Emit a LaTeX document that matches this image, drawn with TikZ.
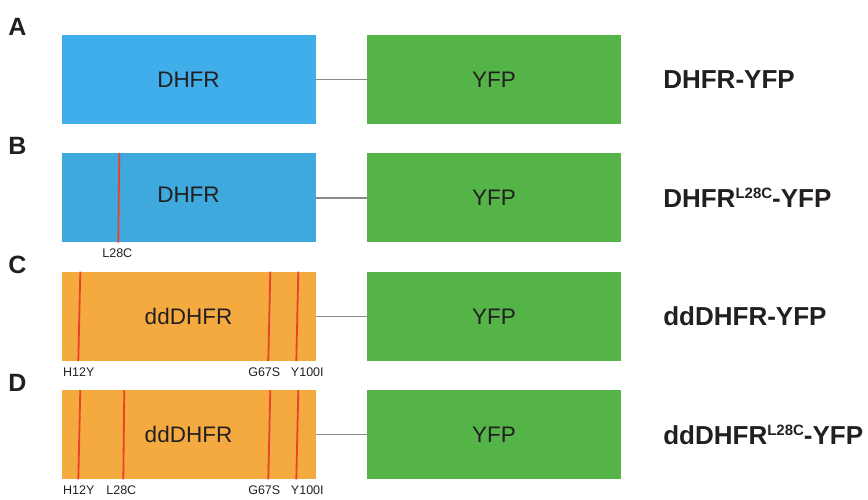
\documentclass[tikz,border=0pt]{standalone}
\usepackage{fontspec}
\setmainfont{Liberation Sans}
\usetikzlibrary{positioning,calc}
\definecolor{dhfrblue}{HTML}{41AEEC}
\definecolor{dhfrblueb}{HTML}{3EA9DD}
\definecolor{ddorange}{HTML}{F5AA40}
\definecolor{yfpgreen}{HTML}{55B448}
\definecolor{mutred}{HTML}{E8412C}
\definecolor{inkgray}{HTML}{231F20}
\definecolor{linkgray}{HTML}{8A8A8A}
\tikzset{every node/.append style={text=inkgray}}
\newcommand{\mutation}[5]{%
  \draw[mutline] ($(#1.north west)+(#2,0)$) -- ($(#1.south west)+(#3,0)$);
  \node[mutlabel] (#1-#4) at ($(#1.south west)+(#5,-11)$) {#4};}
\newcommand{\supmut}[1]{\raisebox{8.5pt}{\fontsize{15}{15}\selectfont #1}}

\begin{document}
\begin{tikzpicture}[x=1pt,y=1pt]
		\tikzstyle{dhfrbox} = [rectangle, minimum width=254pt, minimum height=89pt, inner sep=0pt, text centered, fill=dhfrblue, font=\fontsize{22.5}{27}\selectfont];
		\tikzstyle{ddbox} = [dhfrbox, fill=ddorange];
		\tikzstyle{yfpbox} = [dhfrbox, fill=yfpgreen];
		\tikzstyle{fusion} = [inner sep=0pt, text height=18.6pt, text depth=0pt, font=\fontsize{26}{30}\selectfont\bfseries];
		\tikzstyle{panel} = [inner sep=0pt, font=\fontsize{25}{30}\selectfont\bfseries];
		\tikzstyle{mutlabel} = [inner sep=0pt, font=\fontsize{12.5}{15}\selectfont];
		\tikzstyle{mutline} = [draw=mutred, line width=1.8pt];
		\tikzstyle{linker} = [draw=linkgray, line width=1.4pt];
		\useasboundingbox (0,0) rectangle (868,-499);
		\node (dhfrA) [dhfrbox] at (188.5,-79.5) {DHFR};
		\node (dhfrB) [dhfrbox, fill=dhfrblueb, below=29pt of dhfrA] {\raisebox{6pt}{DHFR}};
		\node (dhfrC) [ddbox, below=29pt of dhfrB] {ddDHFR};
		\node (dhfrD) [ddbox, below=29pt of dhfrC] {ddDHFR};
		\node (yfpA) [yfpbox, right=51pt of dhfrA] {YFP};
		\node (yfpB) [yfpbox, right=51pt of dhfrB] {YFP};
		\node (yfpC) [yfpbox, right=51pt of dhfrC] {YFP};
		\node (yfpD) [yfpbox, right=51pt of dhfrD] {YFP};
		\node (nameA) [fusion, right=42pt of yfpA] {DHFR-YFP};
		\node (nameB) [fusion, right=42pt of yfpB] {DHFR\supmut{L28C}-YFP};
		\node (nameC) [fusion, right=42pt of yfpC] {ddDHFR-YFP};
		\node (nameD) [fusion, right=42pt of yfpD] {ddDHFR\supmut{L28C}-YFP};
		\node (panelA) [panel] at ($(dhfrA.north west)+(-44,8)$) {A};
		\node (panelB) [panel] at ($(dhfrB.north west)+(-44,7)$) {B};
		\node (panelC) [panel] at ($(dhfrC.north west)+(-44,7)$) {C};
		\node (panelD) [panel] at ($(dhfrD.north west)+(-44,7)$) {D};
		\draw[linker] (dhfrA) -- (yfpA);
		\draw[linker] (dhfrB) -- (yfpB);
		\draw[linker] (dhfrC) -- (yfpC);
		\draw[linker] (dhfrD) -- (yfpD);
		% point mutations
		\mutation{dhfrB}{58}{57}{L28C}{56}
		\mutation{dhfrC}{19}{17}{H12Y}{17.5}
		\mutation{dhfrC}{209}{207}{G67S}{203}
		\mutation{dhfrC}{237}{235}{Y100I}{246}
		\mutation{dhfrD}{19}{17}{H12Y}{17.5}
		\mutation{dhfrD}{63}{62}{L28C}{60}
		\mutation{dhfrD}{209}{207}{G67S}{203}
		\mutation{dhfrD}{237}{235}{Y100I}{246}
	\end{tikzpicture}
\end{document}
